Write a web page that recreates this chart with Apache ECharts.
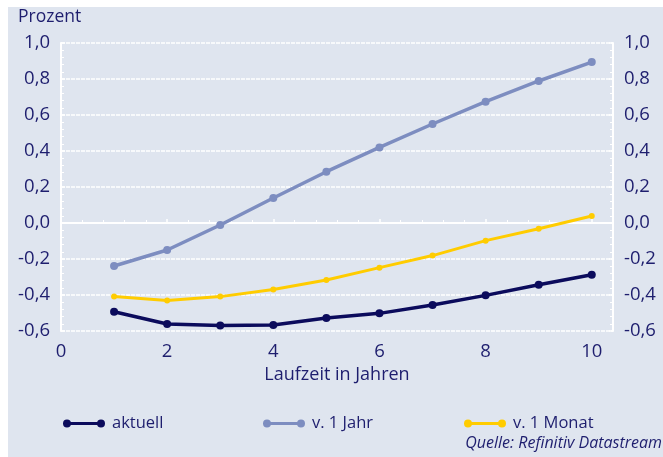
<!DOCTYPE html>
<html><head><meta charset="utf-8">
<script src="https://cdn.jsdelivr.net/npm/echarts@6/dist/echarts.min.js"></script>
<style>html,body{margin:0;padding:0;background:#fff}#c{width:663px;height:457px}</style>
</head><body><div id="c"></div>
<script>
const years = [1, 2, 3, 4, 5, 6, 7, 8, 9, 10];
const aktuell = [-0.493, -0.561, -0.570, -0.567, -0.528, -0.502, -0.456, -0.402, -0.343, -0.287];
const vorJahr = [-0.239, -0.150, -0.011, 0.139, 0.285, 0.420, 0.550, 0.674, 0.789, 0.894];
const vorMonat = [-0.409, -0.431, -0.409, -0.369, -0.317, -0.248, -0.181, -0.098, -0.032, 0.039];
const seriesNames = ['aktuell', 'v. 1 Jahr', 'v. 1 Monat'];
const seriesColors = ['#0b0b5c', '#7d8dc0', '#ffcc00'];

const txt = '#1e1e6e';
const font = 'Open Sans';
const bg = '#dfe5ef';
const pairs = a => years.map((x, i) => [x, a[i]]);
const fmt = v => v.toFixed(1).replace('.', ',');
const icon = 'path://M0,4A4,4 0 1,1 8,4A4,4 0 1,1 0,4Z M34,4A4,4 0 1,1 42,4A4,4 0 1,1 34,4Z M4,2.4L38,2.4L38,5.6L4,5.6Z';

function yAx(pos) {
  return {
    type: 'value', position: pos, min: -0.6, max: 1.0, interval: 0.2,
    axisLine: { show: true, lineStyle: { color: '#fff', width: 2 } },
    axisTick: { show: true, inside: true, length: 4, lineStyle: { color: '#fff', width: 1.5 } },
    minorTick: { show: true, splitNumber: 5, length: 3, lineStyle: { color: '#fff', width: 1 } },
    splitLine: { show: pos === 'left', lineStyle: { color: '#fff', width: 1.5, type: [4, 1] } },
    axisLabel: { color: txt, fontFamily: font, fontSize: 18.5, margin: 11, formatter: fmt }
  };
}

const chart = echarts.init(document.getElementById('c'));
const data = [aktuell, vorJahr, vorMonat];
const widths = [3.5, 3.5, 3];
const legendLeft = [63, 263, 464];
chart.setOption({
  animation: false,
  textStyle: { fontFamily: font },
  graphic: [
    { type: 'rect', z: -10, shape: { x: 8, y: 7, width: 655, height: 450 }, style: { fill: bg } },
    { type: 'text', left: 18, top: 8, style: { text: 'Prozent', fill: txt, font: '17.5px "Open Sans"' } },
    { type: 'text', right: 1, top: 435, style: { text: 'Quelle: Refinitiv Datastream', fill: txt, font: 'italic 16px "Open Sans"' } }
  ],
  grid: { left: 61, right: 50, top: 43, bottom: 126 },
  legend: seriesNames.map((n, i) => ({
    data: [n], left: legendLeft[i], top: 415, padding: 0, icon: icon, itemWidth: 42, itemHeight: 8, itemGap: 0,
    textStyle: { color: txt, fontFamily: font, fontSize: 16.5, padding: [0, 0, 0, 2] }, selectedMode: false
  })),
  xAxis: {
    type: 'value', min: 0, max: 10.4, interval: 2,
    name: 'Laufzeit in Jahren', nameLocation: 'middle', nameGap: 30,
    nameTextStyle: { color: txt, fontFamily: font, fontSize: 18 },
    axisLine: { show: true, lineStyle: { color: '#fff', width: 2 } },
    axisTick: { show: true, inside: true, length: 4, lineStyle: { color: '#fff', width: 1.5 } },
    minorTick: { show: true, splitNumber: 5, length: 3, lineStyle: { color: '#fff', width: 1 } },
    splitLine: { show: false },
    axisLabel: { color: txt, fontFamily: font, fontSize: 18.5, margin: 11, showMaxLabel: false }
  },
  yAxis: [yAx('left'), yAx('right')],
  series: seriesNames.map((n, i) => ({
    name: n, type: 'line', data: pairs(data[i]), yAxisIndex: 0,
    symbol: 'circle', symbolSize: i === 2 ? 6 : 8,
    lineStyle: { color: seriesColors[i], width: widths[i] },
    itemStyle: { color: seriesColors[i] },
    z: 3 - i
  }))
});
</script></body></html>
